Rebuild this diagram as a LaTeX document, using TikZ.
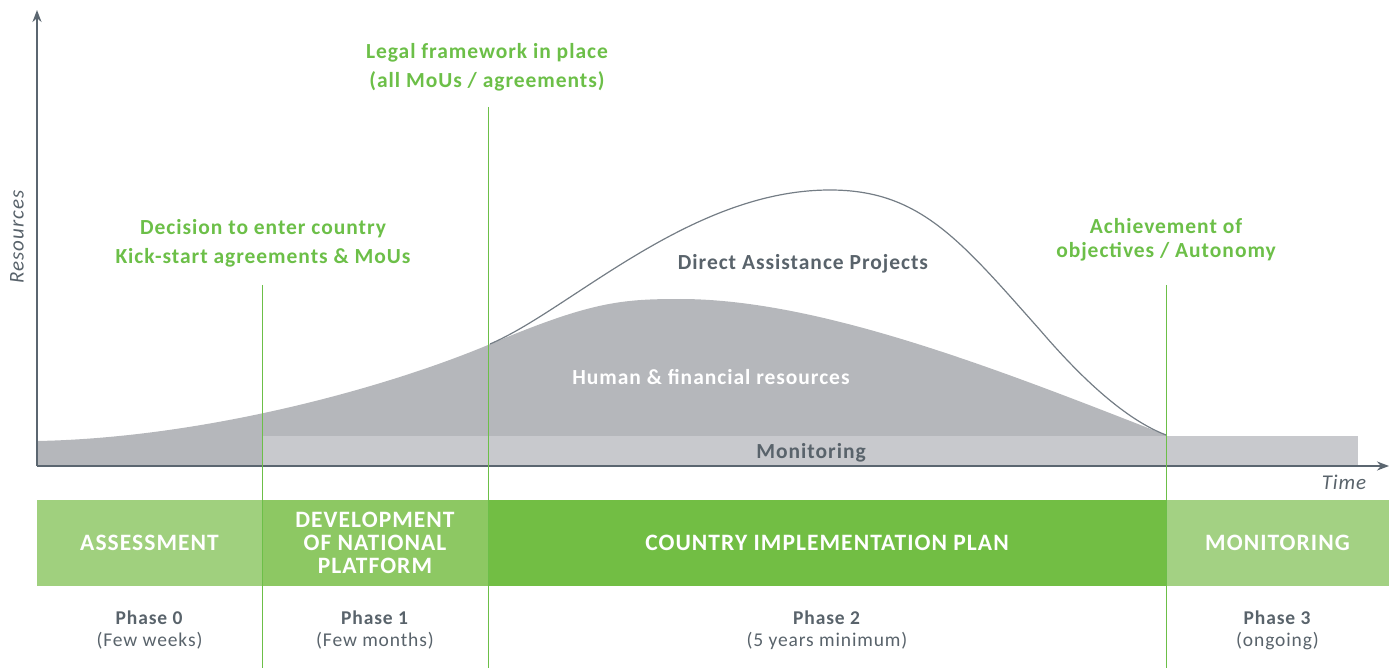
\documentclass[tikz,border=0pt]{standalone}
\usepackage{fontspec}
\setmainfont{Carlito}[LetterSpace=4.5]
\usetikzlibrary{positioning,arrows.meta}
\definecolor{axisgray}{HTML}{5B6670}
\definecolor{textgray}{HTML}{59636B}
\definecolor{darkfill}{HTML}{B5B7BB}
\definecolor{lightfill}{HTML}{C8C9CD}
\definecolor{leafgreen}{HTML}{6CBF48}
\definecolor{greenA}{HTML}{A0D07E}
\definecolor{greenB}{HTML}{8DC863}
\definecolor{greenC}{HTML}{72BE44}
\definecolor{greenD}{HTML}{A3D183}
\tikzset{milestone/.style={text=leafgreen, font=\bfseries\fontsize{21.5}{29}\selectfont, align=center},
         phasebox/.style={minimum height=86pt, inner sep=0pt, outer sep=0pt, text=white,
                          font=\bfseries\fontsize{23.5}{23}\selectfont, align=center},
         phaselabel/.style={text=textgray, font=\fontsize{19.5}{22}\selectfont, align=center},
         marker/.style={leafgreen, line width=0.9pt}}
\begin{document}
\begin{tikzpicture}[x=1pt, y=-1pt, >=Stealth]
	\useasboundingbox (0,0) rectangle (1389,668);

	% resource areas
	\fill[darkfill] (37,466) -- (37,441) .. controls (200,438) and (380,390) .. (488,345)
		.. controls (590,302) and (620,299) .. (680,299)
		.. controls (820,299) and (1000,370) .. (1166,435) -- (1166,466) -- cycle;
	\fill[lightfill] (262,436) rectangle (1358,466);
	\draw[axisgray!85, line width=1.2pt] (490,344) .. controls (570,310) and (690,190) .. (830,190)
		.. controls (920,190) and (960,240) .. (1040,330)
		.. controls (1100,400) and (1140,425) .. (1166,435);

	\node[text=textgray, font=\bfseries\fontsize{21.5}{24}\selectfont] (dap) at (803,264) {Direct Assistance Projects};
	\node[text=white, font=\bfseries\fontsize{21.5}{24}\selectfont] (hfr) at (711,377) {Human \& financial resources};
	\node[text=textgray, font=\bfseries\fontsize{21.5}{24}\selectfont] (mon) at (811,453) {Monitoring};

	% axes
	\coordinate (origin) at (37,466);
	\coordinate (ytop) at (37,10);
	\coordinate (xend) at (1389,466);
	\draw[axisgray, line width=2pt, ->] (origin) -- (ytop);
	\draw[axisgray, line width=2pt, ->] (origin) -- (xend);
	\node[text=textgray, font=\itshape\fontsize{21}{24}\selectfont, rotate=90] (res) at (17,237) {Resources};
	\node[text=textgray, font=\itshape\fontsize{21}{24}\selectfont] (time) at (1344,482) {Time};

	% milestones
	\node[milestone] (decision) at (263,243) {Decision to enter country\\Kick-start agreements \& MoUs};
	\node[milestone] (legal) at (487,67) {Legal framework in place\\(all MoUs / agreements)};
	\node[milestone, font=\bfseries\fontsize{21.5}{24}\selectfont] (achieve) at (1166,240) {Achievement of\\objectives / Autonomy};

	% phase bar
	\node[phasebox, fill=greenA, minimum width=225pt, anchor=west] (assess) at (37,543) {ASSESSMENT};
	\node[phasebox, fill=greenB, minimum width=226pt, right=0pt of assess] (develop) {DEVELOPMENT\\OF NATIONAL\\PLATFORM};
	\node[phasebox, fill=greenC, minimum width=678pt, right=0pt of develop] (plan) {COUNTRY IMPLEMENTATION PLAN};
	\node[phasebox, fill=greenD, minimum width=223pt, right=0pt of plan] (monitor) {MONITORING};

	\node[phaselabel, below=21pt of assess] (ph0) {\textbf{Phase 0}\\(Few weeks)};
	\node[phaselabel, below=21pt of develop] (ph1) {\textbf{Phase 1}\\(Few months)};
	\node[phaselabel, below=21pt of plan] (ph2) {\textbf{Phase 2}\\(5 years minimum)};
	\node[phaselabel, below=21pt of monitor] (ph3) {\textbf{Phase 3}\\(ongoing)};

	% milestone lines
	\coordinate (d1) at (262,285);
	\coordinate (l1) at (488,107);
	\coordinate (a1) at (1166,285);
	\draw[marker] (d1) -- (d1 |- 0,668);
	\draw[marker] (l1) -- (l1 |- 0,668);
	\draw[marker] (a1) -- (a1 |- 0,668);
\end{tikzpicture}
\end{document}
